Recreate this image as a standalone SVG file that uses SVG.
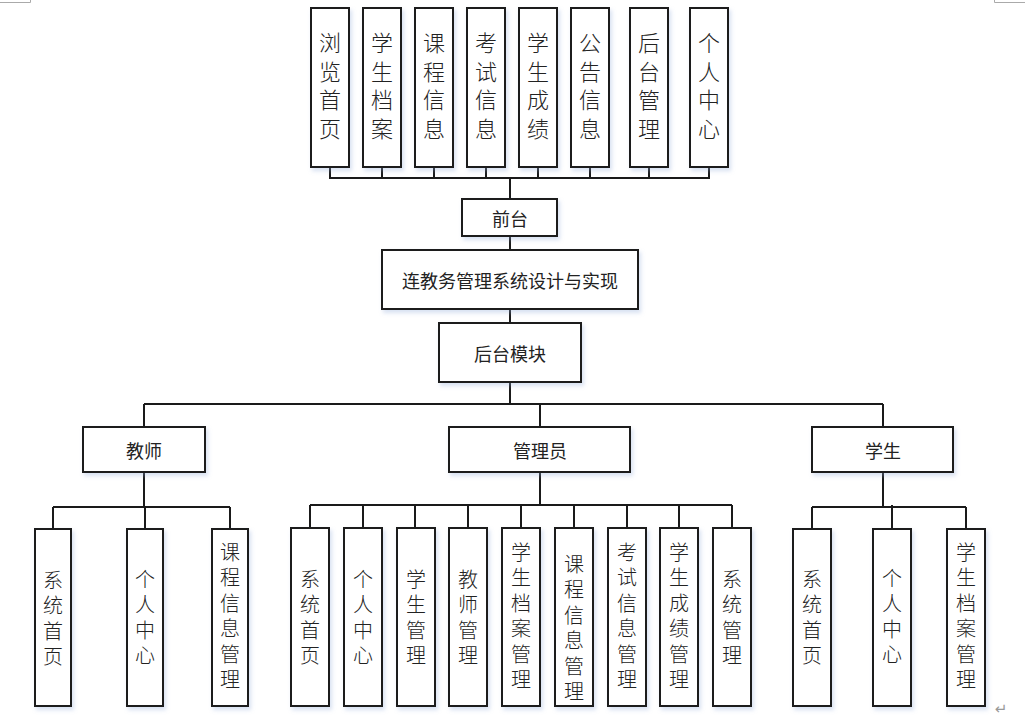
<svg xmlns="http://www.w3.org/2000/svg" width="1025" height="719" viewBox="0 0 1025 719">
<defs>
<filter id="sh" x="-20%" y="-20%" width="150%" height="150%">
<feDropShadow dx="2" dy="3" stdDeviation="2" flood-color="#8fa8d8" flood-opacity="0.35"/>
</filter>
<style>
rect.b{fill:#fff;stroke:#1a1a1a;stroke-width:2;filter:url(#sh)}
.c{fill:none;stroke:#1a1a1a;stroke-width:2}
text{font-family:"Noto Sans CJK SC","Noto Sans",sans-serif;fill:#222;text-anchor:middle;dominant-baseline:central}
.h{font-size:18px}
.t{font-size:22px;font-weight:300;writing-mode:vertical-rl;letter-spacing:6.5px}
.v{font-size:20px;font-weight:300;writing-mode:vertical-rl;letter-spacing:5.5px}
.mk{fill:none;stroke:#aaa;stroke-width:1}
</style>
</defs>
<rect width="1025" height="719" fill="#fff"/>
<path class="mk" d="M0 2.5H30.5V0M994.5 0V2.5H1025"/>
<text x="1001" y="709" style="font-family:'DejaVu Sans',sans-serif;font-size:15px;fill:#999">↵</text>

<g id="connectors">
<path class="c" d="M330 167V178M382 167V178M434 167V178M486 167V178M538 167V178M590 167V178M649 167V178M709 167V178M329 178H710M510 178V199"/>
<path class="c" d="M510 236V250M510 309V323M510 382V404M144 404H883M144 404V427M540 404V427M883 404V427"/>
<path class="c" d="M144 472V507M53 507H230M53 507V529M145 507V529M230 507V529"/>
<path class="c" d="M540 472V505M310 505H732M310 505V528M363 505V528M415 505V528M468 505V528M521 505V528M574 505V528M627 505V528M679 505V528M732 505V528"/>
<path class="c" d="M883 472V507M812 507H966M812 507V529M892 505V529M966 507V529"/>
</g>

<g id="top-1"><rect class="b" x="311" y="8" width="38" height="159"/><text class="t" x="330" y="89">浏览首页</text></g>
<g id="top-2"><rect class="b" x="363" y="8" width="38" height="159"/><text class="t" x="382" y="89">学生档案</text></g>
<g id="top-3"><rect class="b" x="415" y="8" width="38" height="159"/><text class="t" x="434" y="89">课程信息</text></g>
<g id="top-4"><rect class="b" x="467" y="8" width="38" height="159"/><text class="t" x="486" y="89">考试信息</text></g>
<g id="top-5"><rect class="b" x="519" y="8" width="38" height="159"/><text class="t" x="538" y="89">学生成绩</text></g>
<g id="top-6"><rect class="b" x="571" y="8" width="38" height="159"/><text class="t" x="590" y="89">公告信息</text></g>
<g id="top-7"><rect class="b" x="630" y="8" width="38" height="159"/><text class="t" x="649" y="89">后台管理</text></g>
<g id="top-8"><rect class="b" x="690" y="8" width="38" height="159"/><text class="t" x="709" y="89">个人中心</text></g>

<g id="qiantai"><rect class="b" x="462" y="199" width="95" height="37"/><text class="h" x="510" y="217.5">前台</text></g>
<g id="main"><rect class="b" x="382" y="250" width="256" height="59"/><text class="h" x="510" y="279.5">连教务管理系统设计与实现</text></g>
<g id="houtai"><rect class="b" x="439" y="323" width="142" height="59"/><text class="h" x="510" y="352.5">后台模块</text></g>

<g id="teacher"><rect class="b" x="83" y="427" width="122" height="45"/><text class="h" x="144" y="449.5">教师</text></g>
<g id="admin"><rect class="b" x="449" y="427" width="181" height="45"/><text class="h" x="540" y="449.5">管理员</text></g>
<g id="student"><rect class="b" x="812" y="427" width="141" height="45"/><text class="h" x="883" y="449.5">学生</text></g>

<g id="t-1"><rect class="b" x="35" y="529" width="36" height="177"/><text class="v" x="53" y="621">系统首页</text></g>
<g id="t-2"><rect class="b" x="127" y="529" width="36" height="177"/><text class="v" x="145" y="620">个人中心</text></g>
<g id="t-3"><rect class="b" x="212" y="529" width="36" height="177"/><text class="v" x="230" y="618.5">课程信息管理</text></g>

<g id="a-1"><rect class="b" x="291" y="528" width="38" height="178"/><text class="v" x="310" y="620">系统首页</text></g>
<g id="a-2"><rect class="b" x="344" y="528" width="38" height="178"/><text class="v" x="363" y="620">个人中心</text></g>
<g id="a-3"><rect class="b" x="397" y="528" width="38" height="178"/><text class="v" x="416" y="620">学生管理</text></g>
<g id="a-4"><rect class="b" x="449" y="528" width="38" height="178"/><text class="v" x="468" y="620">教师管理</text></g>
<g id="a-5"><rect class="b" x="502" y="528" width="38" height="178"/><text class="v" x="521" y="618.5">学生档案管理</text></g>
<g id="a-6"><rect class="b" x="555" y="528" width="38" height="178"/><text class="v" x="574" y="630.5">课程信息管理</text></g>
<g id="a-7"><rect class="b" x="608" y="528" width="38" height="178"/><text class="v" x="627" y="618.5">考试信息管理</text></g>
<g id="a-8"><rect class="b" x="660" y="528" width="38" height="178"/><text class="v" x="679" y="618.5">学生成绩管理</text></g>
<g id="a-9"><rect class="b" x="713" y="528" width="38" height="178"/><text class="v" x="732" y="620">系统管理</text></g>

<g id="s-1"><rect class="b" x="793" y="529" width="38" height="177"/><text class="v" x="812" y="620">系统首页</text></g>
<g id="s-2"><rect class="b" x="873" y="529" width="38" height="177"/><text class="v" x="892" y="619">个人中心</text></g>
<g id="s-3"><rect class="b" x="947" y="529" width="38" height="177"/><text class="v" x="966" y="618.5">学生档案管理</text></g>
</svg>
